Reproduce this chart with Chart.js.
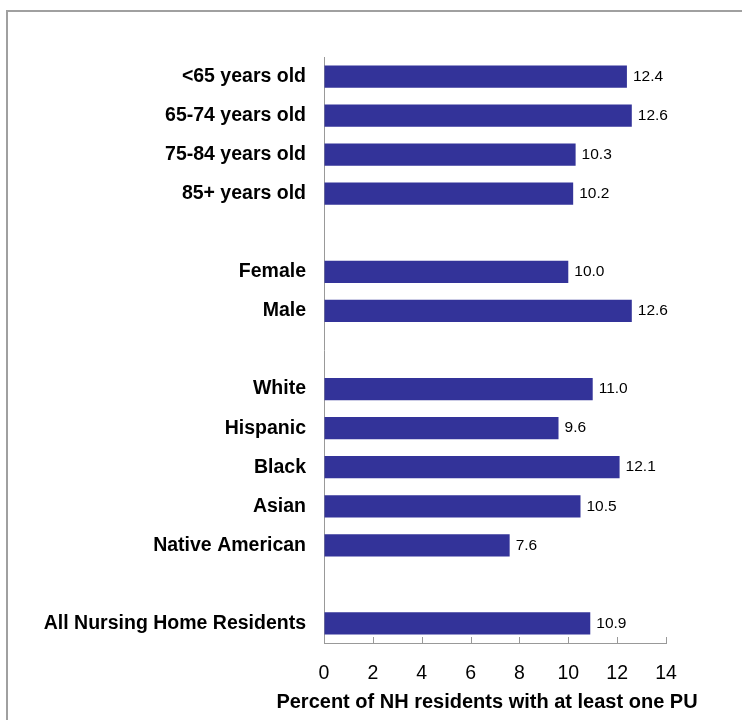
<!DOCTYPE html>
<html>
<head>
<meta charset="utf-8">
<script src="https://cdn.jsdelivr.net/npm/chart.js@4/dist/chart.umd.min.js"></script>
<style>
  html, body { margin: 0; padding: 0; background: #fff; }
  #wrap { width: 742px; height: 720px; }
</style>
</head>
<body>
<div id="wrap"><canvas id="puChart" width="742" height="720"></canvas></div>
<script>
// rows top to bottom, "" rows are the gaps between groups
const categories = [
  "<65 years old", "65-74 years old", "75-84 years old", "85+ years old", "",
  "Female", "Male", "",
  "White", "Hispanic", "Black", "Asian", "Native American", "",
  "All Nursing Home Residents"
];
const puPercent = [12.4, 12.6, 10.3, 10.2, null, 10.0, 12.6, null, 11.0, 9.6, 12.1, 10.5, 7.6, null, 10.9];
const xTicks = [0, 2, 4, 6, 8, 10, 12, 14];
const xTitle = "Percent of NH residents with at least one PU";

const FONT = "Arial, 'Liberation Sans', Helvetica, sans-serif";
const BAR = "#333399";

// white background + the outer frame (left and top edges are visible)
const framePlugin = {
  id: "frame",
  beforeDraw(chart) {
    const ctx = chart.ctx;
    ctx.save();
    ctx.fillStyle = "#fff";
    ctx.fillRect(0, 0, chart.width, chart.height);
    ctx.strokeStyle = "#a0a0a0";
    ctx.lineWidth = 2;
    ctx.strokeRect(7, 11, chart.width + 20, chart.height + 20);
    ctx.restore();
  }
};

// small tick marks pointing up into the plot from the x axis,
// plus the axis title (wider than the plot, so chart.js would squeeze it)
const xAxisExtras = {
  id: "xAxisExtras",
  afterDraw(chart) {
    const x = chart.scales.x, ctx = chart.ctx;
    const y = chart.chartArea.bottom;
    ctx.save();
    ctx.strokeStyle = "#999";
    ctx.lineWidth = 1;
    xTicks.forEach(v => {
      const px = Math.round(x.getPixelForValue(v)) + 0.5;
      ctx.beginPath();
      ctx.moveTo(px, y);
      ctx.lineTo(px, y - 6);
      ctx.stroke();
    });
    ctx.fillStyle = "#000";
    ctx.font = "bold 20px " + FONT;
    ctx.textAlign = "center";
    ctx.textBaseline = "middle";
    ctx.fillText(xTitle, (x.left + x.right) / 2 - 8, x.bottom - 18);
    ctx.restore();
  }
};

// value labels to the right of each bar
const valueLabels = {
  id: "valueLabels",
  afterDatasetsDraw(chart) {
    const ctx = chart.ctx;
    const meta = chart.getDatasetMeta(0);
    ctx.save();
    ctx.fillStyle = "#000";
    ctx.font = "15.5px " + FONT;
    ctx.textAlign = "left";
    ctx.textBaseline = "middle";
    meta.data.forEach((bar, i) => {
      const v = puPercent[i];
      if (v == null) return;
      ctx.fillText(v.toFixed(1), bar.x + 6, bar.y);
    });
    ctx.restore();
  }
};

new Chart(document.getElementById("puChart"), {
  type: "bar",
  data: {
    labels: categories,
    datasets: [{
      data: puPercent,
      backgroundColor: BAR,
      borderWidth: 0,
      barPercentage: 0.57,
      categoryPercentage: 1
    }]
  },
  options: {
    indexAxis: "y",
    responsive: false,
    animation: false,
    layout: { padding: { top: 57, right: 76, bottom: 0, left: 0 } },
    plugins: {
      legend: { display: false },
      tooltip: { enabled: false }
    },
    scales: {
      x: {
        min: 0,
        max: 14,
        afterBuildTicks(scale) {
          scale.ticks = xTicks.map(v => ({ value: v }));
        },
        afterFit(scale) { scale.height = 77; },
        grid: { drawOnChartArea: false, drawTicks: false },
        border: { display: true, color: "#999", width: 1 },
        ticks: {
          color: "#000",
          padding: 19,
          font: { family: FONT, size: 19.5 },
          maxRotation: 0
        },
        title: { display: false }
      },
      y: {
        afterFit(scale) { scale.width = 324; },
        grid: { drawOnChartArea: false, drawTicks: false },
        border: { display: true, color: "#999", width: 1 },
        ticks: {
          color: "#000",
          padding: 18,
          autoSkip: false,
          font: { family: FONT, size: 19.5, weight: "bold" }
        }
      }
    }
  },
  plugins: [framePlugin, xAxisExtras, valueLabels]
});
</script>
</body>
</html>
